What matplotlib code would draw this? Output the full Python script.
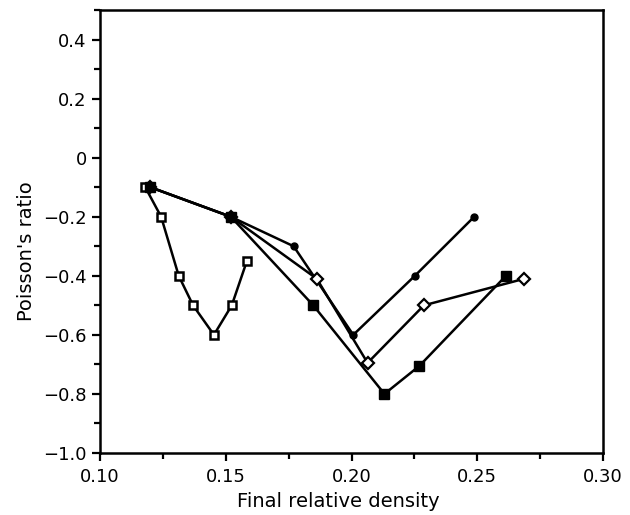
import matplotlib
matplotlib.use("Agg")
import matplotlib.pyplot as plt
from matplotlib.ticker import MultipleLocator

# open squares
sq_open_x = [0.118, 0.1243, 0.1313, 0.137, 0.1453, 0.1524, 0.1584]
sq_open_y = [-0.10, -0.20, -0.40, -0.50, -0.60, -0.50, -0.35]

# filled circles
circ_x = [0.120, 0.152, 0.177, 0.2007, 0.2252, 0.2488]
circ_y = [-0.10, -0.20, -0.30, -0.60, -0.40, -0.20]

# open diamonds
dia_x = [0.120, 0.152, 0.1862, 0.2064, 0.2288, 0.2687]
dia_y = [-0.10, -0.20, -0.41, -0.695, -0.50, -0.41]

# filled squares
sq_x = [0.120, 0.152, 0.1848, 0.2131, 0.227, 0.2614]
sq_y = [-0.10, -0.20, -0.50, -0.80, -0.705, -0.40]

yticks = [-1.0, -0.8, -0.6, -0.4, -0.2, 0, 0.2, 0.4]
ytick_labels = ['\u22121.0', '\u22120.8', '\u22120.6', '\u22120.4', '\u22120.2', '0', '0.2', '0.4']
xticks = [0.10, 0.15, 0.20, 0.25, 0.30]
xtick_labels = ['0.10', '0.15', '0.20', '0.25', '0.30']

fig = plt.figure(figsize=(6.3, 5.15), dpi=100)
ax = fig.add_axes([100/630, 1 - 453/515, 503/630, 443/515])

#plot the four series
ax.plot(circ_x, circ_y, color='black', lw=1.8, marker='o', ms=5,
        mfc='black', mec='black', zorder=3)
ax.plot(dia_x, dia_y, color='black', lw=1.8, marker='D', ms=6,
        mfc='white', mec='black', mew=1.6, zorder=3)
ax.plot(sq_x, sq_y, color='black', lw=1.8, marker='s', ms=7,
        mfc='black', mec='black', zorder=4)
ax.plot(sq_open_x, sq_open_y, color='black', lw=1.8, marker='s', ms=6,
        mfc='white', mec='black', mew=1.8, zorder=3)

#axis limits and ticks
ax.set_xlim(0.10, 0.30)
ax.set_ylim(-1.0, 0.5)
ax.set_xticks(xticks)
ax.set_xticklabels(xtick_labels)
ax.set_yticks(yticks)
ax.set_yticklabels(ytick_labels)
ax.xaxis.set_minor_locator(MultipleLocator(0.025))
ax.yaxis.set_minor_locator(MultipleLocator(0.1))
ax.tick_params(which='both', direction='out', width=1.6, labelsize=13)
ax.tick_params(which='major', length=6)
ax.tick_params(which='minor', length=4)
ax.tick_params(axis='x', pad=5)

for s in ax.spines.values():
    s.set_linewidth(1.8)

#labels
ax.set_xlabel('Final relative density', fontsize=14, labelpad=4, x=0.473)
ax.set_ylabel("Poisson's ratio", fontsize=14, labelpad=5, y=0.455)

fig.savefig('out.png', dpi=100)
